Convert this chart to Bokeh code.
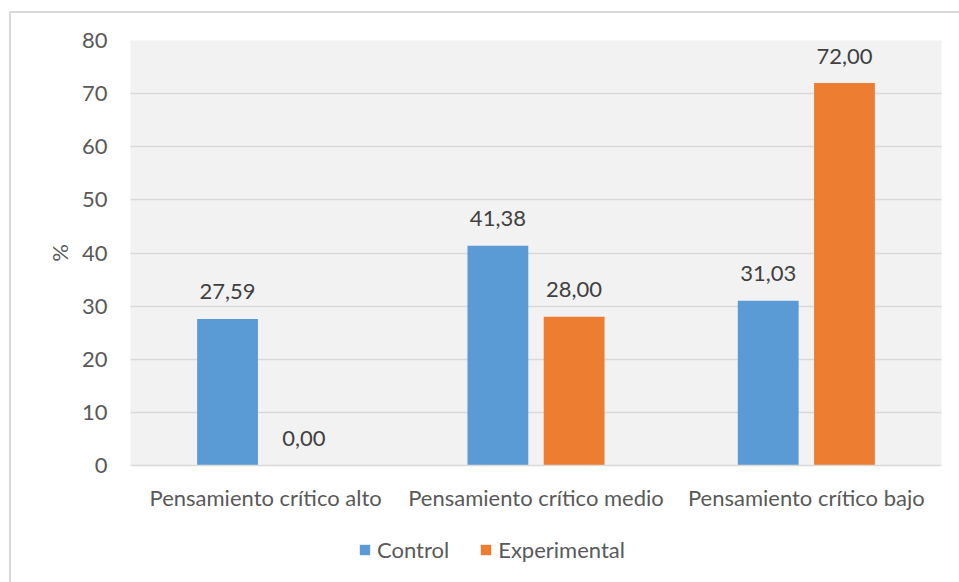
from bokeh.plotting import figure
from bokeh.layouts import column
from bokeh.models import ColumnDataSource, Range1d, FactorRange, Legend, LegendItem
from bokeh.transform import dodge
from bokeh.core.properties import value
from bokeh.embed import file_html
from bokeh.resources import INLINE

categories = ["Pensamiento crítico alto", "Pensamiento crítico medio", "Pensamiento crítico bajo"]
control = [27.59, 41.38, 31.03]
experimental = [0.00, 28.00, 72.00]
series_names = ["Control", "Experimental"]
y_ticks = [0, 10, 20, 30, 40, 50, 60, 70, 80]

FONT = "Lato"
FS = "22px"
BLUE = "#5b9bd5"
ORANGE = "#ed7d31"

def fmt(v):
    return f"{v:.2f}".replace(".", ",")

src = ColumnDataSource(dict(
    cat=categories,
    control=control,
    experimental=experimental,
    control_lbl=[fmt(v) for v in control],
    experimental_lbl=[fmt(v) for v in experimental],
))

W = 948
H1 = 507
H2 = 62
xr = FactorRange(*categories)
p = figure(width=W, height=H1, x_range=xr, y_range=Range1d(0, 80),
           output_backend="svg", toolbar_location=None,
           min_border_left=119, min_border_right=18, min_border_top=27, min_border_bottom=55)

p.background_fill_color = "#f2f2f2"
p.border_fill_color = "white"
p.outline_line_color = None

off = 0.141
bw = 0.225
p.vbar(x=dodge("cat", -off, range=xr), top="control", width=bw, source=src,
       fill_color=BLUE, line_color=None)
p.vbar(x=dodge("cat", off, range=xr), top="experimental", width=bw, source=src,
       fill_color=ORANGE, line_color=None)

p.text(x=dodge("cat", -off, range=xr), y="control", text="control_lbl", source=src,
       text_align="center", text_baseline="alphabetic", y_offset=-27,
       text_font=value(FONT), text_font_size=FS, text_color="#404040")
p.text(x=dodge("cat", off, range=xr), y="experimental", text="experimental_lbl", source=src,
       text_align="center", text_baseline="alphabetic", y_offset=-27,
       text_font=value(FONT), text_font_size=FS, text_color="#404040")

# grid
p.xgrid.grid_line_color = None
p.ygrid.ticker = y_ticks
p.ygrid.grid_line_color = "#d9d9d9"
p.ygrid.grid_line_width = 1.5

# y axis
p.yaxis.ticker = y_ticks
p.yaxis.axis_line_color = None
p.yaxis.major_tick_line_color = None
p.yaxis.minor_tick_line_color = None
p.yaxis.major_label_text_font = FONT
p.yaxis.major_label_text_font_size = FS
p.yaxis.major_label_text_color = "#595959"
p.yaxis.major_label_standoff = 17
p.yaxis.axis_label = "%"
p.yaxis.axis_label_text_font = FONT
p.yaxis.axis_label_text_font_size = FS
p.yaxis.axis_label_text_font_style = "normal"
p.yaxis.axis_label_text_color = "#595959"
p.yaxis.axis_label_standoff = 6

# x axis
p.xaxis.axis_line_color = "#d9d9d9"
p.xaxis.axis_line_width = 1.5
p.xaxis.major_tick_line_color = None
p.xaxis.minor_tick_line_color = None
p.xaxis.major_label_text_font = FONT
p.xaxis.major_label_text_font_size = FS
p.xaxis.major_label_text_color = "#595959"
p.xaxis.major_label_standoff = 12

# legend strip: same series (zero-width, out of view) so only the legend shows
lg = figure(width=W, height=H2, x_range=xr, y_range=Range1d(-2, -1),
            output_backend="svg", toolbar_location=None,
            x_axis_location=None, y_axis_location=None,
            min_border_left=0, min_border_right=0, min_border_top=0, min_border_bottom=0)
lg.grid.visible = False
lg.outline_line_color = None
lg.background_fill_color = "white"
lg.border_fill_color = "white"
l1 = lg.vbar(x=dodge("cat", -off, range=xr), top="control", width=0, source=src,
             fill_color=BLUE, line_color=None)
l2 = lg.vbar(x=dodge("cat", off, range=xr), top="experimental", width=0, source=src,
             fill_color=ORANGE, line_color=None)
legend = Legend(items=[LegendItem(label=series_names[0], renderers=[l1]),
                       LegendItem(label=series_names[1], renderers=[l2])],
                orientation="horizontal", location=(228, 19),
                padding=0, margin=0, spacing=30,
                glyph_width=13, glyph_height=13, label_standoff=6,
                label_text_font=FONT, label_text_font_size=FS, label_text_color="#595959",
                background_fill_alpha=0, border_line_color=None)
lg.add_layout(legend, "center")

layout = column(p, lg, spacing=0)
layout.styles = {"border-left": "2px solid #d9d9d9", "border-top": "2px solid #d9d9d9",
                 "margin-left": "9px", "margin-top": "11px"}

open("out.html", "w").write(file_html(layout, INLINE))
